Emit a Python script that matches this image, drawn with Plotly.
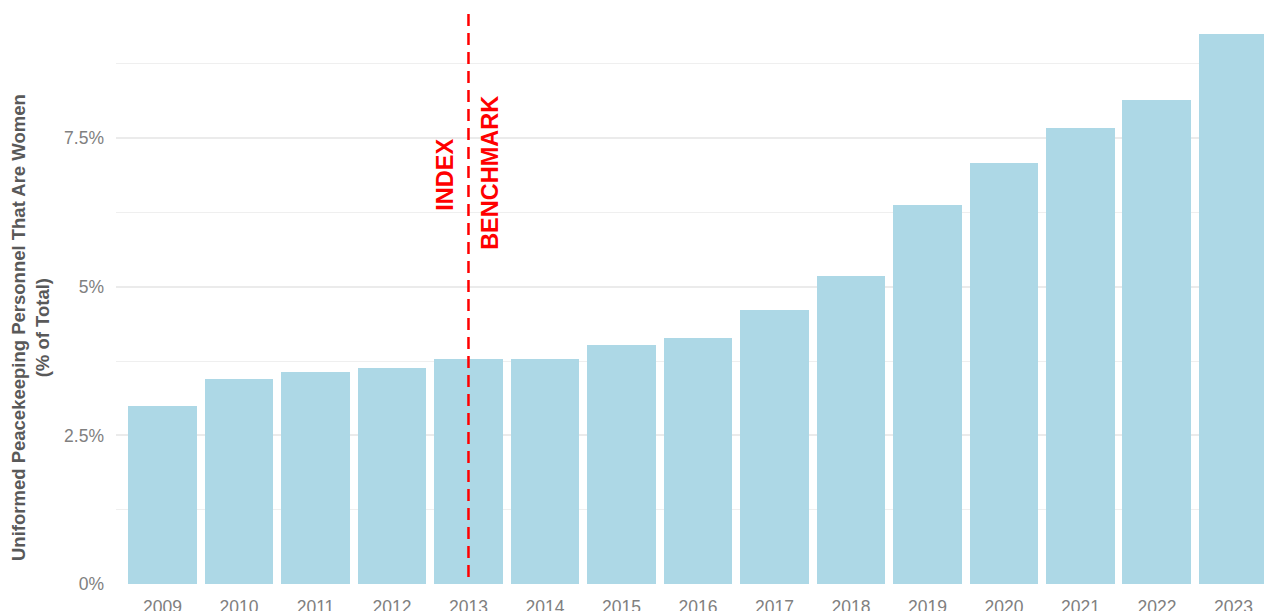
import plotly.graph_objects as go

years = [2009, 2010, 2011, 2012, 2013, 2014, 2015, 2016, 2017, 2018, 2019, 2020, 2021, 2022, 2023]
share_pct = [2.99, 3.45, 3.57, 3.63, 3.79, 3.79, 4.02, 4.14, 4.61, 5.18, 6.38, 7.08, 7.67, 8.14, 9.25]
y_tick_vals = [0, 2.5, 5, 7.5]
y_tick_text = ["0%", "2.5%", "5%", "7.5%"]
minor_vals = [1.25, 3.75, 6.25, 8.75]
benchmark_year = 2013
y_title_lines = ["Uniformed Peacekeeping Personnel That Are Women", "(% of Total)"]

FONT = "Liberation Sans, Arial, sans-serif"

fig = go.Figure()
fig.add_trace(go.Bar(
    x=years, y=share_pct, width=0.9,
    marker=dict(color="#ADD8E6", line=dict(width=0)),
    showlegend=False,
))

fig.add_shape(type="line", xref="x", yref="paper",
              x0=benchmark_year, x1=benchmark_year, y0=1, y1=0,
              line=dict(color="#FF0000", width=2.5, dash="12px,7px"))

fig.add_annotation(x=benchmark_year - 0.31, y=6.88, xref="x", yref="y",
                   text="<b>INDEX</b>", textangle=-90, showarrow=False,
                   font=dict(family=FONT, size=23.5, color="#FF0000"),
                   xanchor="center", yanchor="middle")
fig.add_annotation(x=benchmark_year + 0.29, y=6.91, xref="x", yref="y",
                   text="<b>BENCHMARK</b>", textangle=-90, showarrow=False,
                   font=dict(family=FONT, size=23.5, color="#FF0000"),
                   xanchor="center", yanchor="middle")

fig.add_annotation(x=-(116 - 31) / 1148, y=(584 - 328) / 570, xref="paper", yref="paper",
                   text="<br>".join("<b>" + s + "</b>" for s in y_title_lines),
                   textangle=-90, showarrow=False,
                   font=dict(family=FONT, size=18.5, color="#595959"),
                   xanchor="center", yanchor="middle", align="center")

fig.update_layout(
    width=1264, height=611,
    margin=dict(l=116, r=0, t=14, b=27, autoexpand=False),
    plot_bgcolor="white", paper_bgcolor="white",
    bargap=0,
    font=dict(family=FONT),
    hovermode=False,
)
fig.update_xaxes(
    range=[2008.392, 2023.4], automargin=False,
    tickmode="array", tickvals=years, ticktext=[str(y) for y in years],
    showgrid=False, zeroline=False, showline=False, ticks="",
    tickfont=dict(family=FONT, size=17.5, color="#808080"),
    ticklabelstandoff=10,
)
fig.update_yaxes(
    range=[0, 9.588], automargin=False,
    tickmode="array", tickvals=y_tick_vals, ticktext=y_tick_text,
    showgrid=True, gridcolor="#EBEBEB", gridwidth=2,
    minor=dict(tickmode="array", tickvals=minor_vals,
               showgrid=True, gridcolor="#EFEFEF", gridwidth=1, ticks=""),
    zeroline=False, showline=False, ticks="",
    tickfont=dict(family=FONT, size=17.5, color="#808080"),
    ticklabelstandoff=11,
)

fig.write_html(
    "out.html",
    config={"displayModeBar": False},
    post_script="document.body.style.margin='0';document.body.style.overflow='hidden';",
)
